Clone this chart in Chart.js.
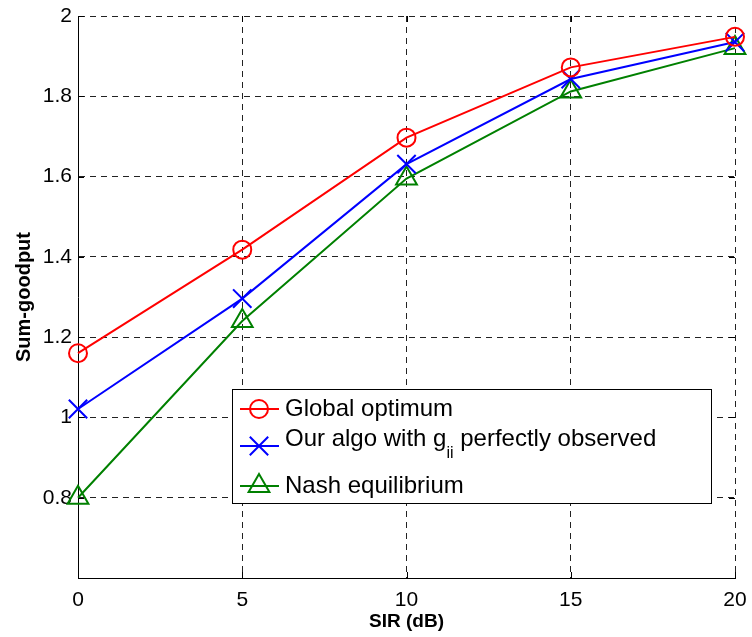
<!DOCTYPE html>
<html><head><meta charset="utf-8">
<script src="https://cdn.jsdelivr.net/npm/chart.js@4.4.0/dist/chart.umd.min.js"></script>
<style>html,body{margin:0;padding:0;background:#fff}</style>
</head><body>
<canvas id="c" width="752" height="637"></canvas>
<script>
const sirDb = [0, 5, 10, 15, 20];
const globalOptimum = [1.16, 1.418, 1.697, 1.872, 1.948];
const ourAlgo = [1.021, 1.296, 1.631, 1.843, 1.935];
const nashEq = [0.80, 1.24, 1.595, 1.812, 1.92];
const xTicks = [0, 5, 10, 15, 20];
const yTicks = [0.6, 0.8, 1, 1.2, 1.4, 1.6, 1.8, 2];
const labelGlobal = 'Global optimum';
const labelOurs = ['Our algo with g', 'ii', ' perfectly observed'];
const labelNash = 'Nash equilibrium';

const FONT = "'Liberation Sans', Arial, Helvetica, sans-serif";
const toXY = (xs, ys) => xs.map((v, i) => ({x: v, y: ys[i]}));

function drawMarker(ctx, style, cx, cy, r) {
  ctx.beginPath();
  if (style === 'circle') {
    ctx.arc(cx, cy, r, 0, Math.PI * 2);
  } else if (style === 'crossRot') {
    const o = r * Math.SQRT1_2;
    ctx.moveTo(cx - o, cy - o); ctx.lineTo(cx + o, cy + o);
    ctx.moveTo(cx + o, cy - o); ctx.lineTo(cx - o, cy + o);
  } else if (style === 'triangle') {
    for (let k = 0; k < 3; k++) {
      const a = k * 2 * Math.PI / 3;
      const px = cx + Math.sin(a) * r, py = cy - Math.cos(a) * r;
      if (k === 0) ctx.moveTo(px, py); else ctx.lineTo(px, py);
    }
    ctx.closePath();
  }
  ctx.stroke();
}

const inwardTicks = {
  id: 'inwardTicks',
  afterDraw(chart) {
    const {ctx, chartArea: a, scales: {x, y}} = chart;
    const L = 6;
    ctx.save();
    ctx.strokeStyle = '#000'; ctx.lineWidth = 1; ctx.setLineDash([]);
    ctx.beginPath();
    xTicks.forEach(v => {
      const px = Math.round(x.getPixelForValue(v)) + 0.5;
      ctx.moveTo(px, a.bottom); ctx.lineTo(px, a.bottom - L);
      ctx.moveTo(px, a.top); ctx.lineTo(px, a.top + L);
    });
    yTicks.forEach(v => {
      const py = Math.round(y.getPixelForValue(v)) + 0.5;
      ctx.moveTo(a.left, py); ctx.lineTo(a.left + L, py);
      ctx.moveTo(a.right, py); ctx.lineTo(a.right - L, py);
    });
    ctx.stroke();
    ctx.restore();
  }
};

const boxLegend = {
  id: 'boxLegend',
  afterDraw(chart) {
    const {ctx, chartArea: a} = chart;
    const x0 = a.left + 154, y0 = a.top + 373;
    const x1 = a.right - 24, y1 = a.top + 487;
    ctx.save();
    ctx.setLineDash([]);
    ctx.fillStyle = '#fff';
    ctx.fillRect(x0, y0, x1 - x0, y1 - y0);
    ctx.strokeStyle = '#000'; ctx.lineWidth = 1;
    ctx.strokeRect(Math.round(x0) + 0.5, Math.round(y0) + 0.5, Math.round(x1 - x0), Math.round(y1 - y0));
    const rows = [
      {ds: chart.data.datasets[0], cy: y0 + 20},
      {ds: chart.data.datasets[1], cy: y0 + 57},
      {ds: chart.data.datasets[2], cy: y0 + 97}
    ];
    rows.forEach((r, i) => {
      ctx.strokeStyle = r.ds.borderColor; ctx.lineWidth = 2;
      ctx.beginPath(); ctx.moveTo(x0 + 8, r.cy); ctx.lineTo(x0 + 47, r.cy); ctx.stroke();
      drawMarker(ctx, r.ds.pointStyle, x0 + 27, r.cy, r.ds.pointRadius);
      ctx.fillStyle = '#000';
      ctx.textBaseline = 'middle'; ctx.textAlign = 'left';
      ctx.font = '24px ' + FONT;
      const tx = x0 + 53;
      if (i === 1) {
        ctx.fillText(labelOurs[0], tx, r.cy - 7);
        let w = ctx.measureText(labelOurs[0]).width;
        ctx.font = '16px ' + FONT;
        ctx.fillText(labelOurs[1], tx + w, r.cy + 8);
        w += ctx.measureText(labelOurs[1]).width;
        ctx.font = '24px ' + FONT;
        ctx.fillText(labelOurs[2], tx + w, r.cy - 7);
      } else {
        ctx.fillText(r.ds.label, tx, r.cy);
      }
    });
    ctx.restore();
  }
};

new Chart(document.getElementById('c'), {
  type: 'line',
  data: {
    datasets: [
      {label: labelGlobal, data: toXY(sirDb, globalOptimum), borderColor: '#ff0000',
       pointStyle: 'circle', pointRadius: 9},
      {label: labelOurs.join(''), data: toXY(sirDb, ourAlgo), borderColor: '#0000ff',
       pointStyle: 'crossRot', pointRadius: 13},
      {label: labelNash, data: toXY(sirDb, nashEq), borderColor: '#008000',
       pointStyle: 'triangle', pointRadius: 12}
    ].map(d => Object.assign({
      borderWidth: 2, pointBorderWidth: 2, pointBorderColor: d.borderColor,
      pointBackgroundColor: 'rgba(0,0,0,0)', pointHoverRadius: d.pointRadius,
      fill: false, tension: 0, clip: false
    }, d))
  },
  options: {
    responsive: false,
    animation: false,
    events: [],
    layout: {padding: {top: 16, right: 17, left: 0, bottom: 0}},
    plugins: {legend: {display: false}, tooltip: {enabled: false}},
    scales: {
      x: {
        type: 'linear', min: 0, max: 20,
        afterBuildTicks: s => { s.ticks = xTicks.map(v => ({value: v})); },
        afterFit: s => { s.height = 59; s.paddingLeft = 0; s.paddingRight = 0; },
        grid: {color: '#222', lineWidth: 1, drawTicks: false},
        border: {display: true, color: '#000', width: 1, dash: [6, 5]},
        ticks: {color: '#000', font: {family: FONT, size: 21}, padding: 10, maxRotation: 0,
                callback: v => String(v)},
        title: {display: true, text: 'SIR (dB)', color: '#000',
                font: {family: FONT, size: 19, weight: 'bold'}, padding: {top: 0, bottom: 4}}
      },
      y: {
        type: 'linear', min: 0.6, max: 2,
        afterBuildTicks: s => { s.ticks = yTicks.map(v => ({value: v})); },
        afterFit: s => { s.width = 78; s.paddingTop = 0; s.paddingBottom = 0; },
        grid: {color: '#222', lineWidth: 1, drawTicks: false},
        border: {display: true, color: '#000', width: 1, dash: [6, 5]},
        ticks: {color: '#000', font: {family: FONT, size: 21}, padding: 6,
                callback: v => v < 0.7 ? '' : String(Math.round(v * 10) / 10)},
        title: {display: true, text: 'Sum-goodput', color: '#000',
                font: {family: FONT, size: 20, weight: 'bold'}, padding: {top: 12, bottom: 0}}
      }
    }
  },
  plugins: [inwardTicks, boxLegend]
});
</script>
</body></html>
